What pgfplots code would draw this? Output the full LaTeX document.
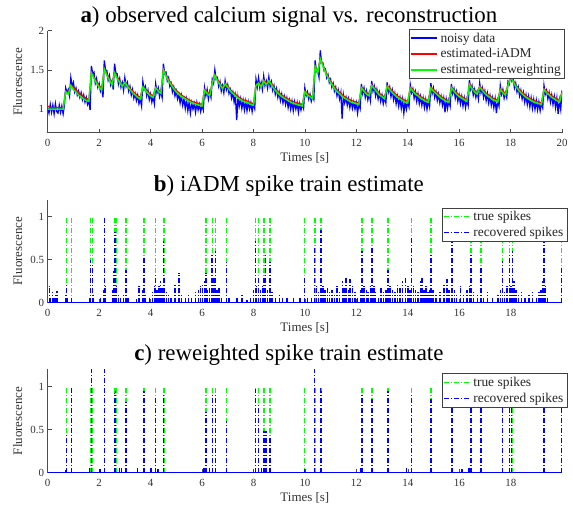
\documentclass[border=0pt]{standalone}
\usepackage{fontspec}
\setmainfont{Liberation Serif}
\usepackage{pgfplots}
\pgfplotsset{compat=1.18}

\pgfplotsset{
  panel/.style={
    scale only axis, width=514.3bp,
    axis x line*=bottom, axis y line*=left,
    tick align=inside, major tick length=4bp,
    axis line style={black!70, line width=0.6bp},
    tick style={black!70, line width=0.6bp},
    ticklabel style={font=\fontsize{11}{13}\selectfont, text=black!80},
    xticklabel style={yshift=-3bp},
    /pgf/number format/assume math mode=true,
    xlabel={Times [s]}, ylabel={Fluorescence},
    xlabel style={at={(axis description cs:0.5,0)}, anchor=center, yshift=-25bp,
      font=\fontsize{13}{15}\selectfont, text=black!80},
    ylabel style={at={(axis description cs:-0.0583,0.5)}, anchor=center, rotate=0,
      font=\fontsize{13}{15}\selectfont, text=black!80},
    title style={at={(axis description cs:0.469,1)}, anchor=south, yshift=-6bp,
      font=\fontsize{23}{26}\selectfont},
    legend image code/.code={\draw[#1] (0bp,0bp) -- (26bp,0bp);},
    legend style={font=\fontsize{13.5}{15}\selectfont, draw=black!75, fill=white,
      inner sep=1bp, cells={anchor=west}, nodes={inner sep=2.5bp}, text=black!85},
    xmin=0,
  },
  spk/.style={line width=1.4bp, dash pattern=on 5bp off 2bp on 1bp off 2bp},
}

\begin{document}
\begin{tikzpicture}
\useasboundingbox (-47.7bp,-377.3bp) rectangle (525.3bp,132.7bp);

% a) calcium trace
\begin{axis}[panel, at={(0,0)}, anchor=south west, height=102bp,
  xmax=20, ymin=0.7, ymax=2, xtick={0,2,...,20}, ytick={1,1.5,2},
  title={\textbf{a}) observed calcium signal vs. reconstruction},
  legend style={at={(1,1)}, anchor=north east, xshift=2.5bp, yshift=1.7bp}]
\addplot[blue, line width=1.3bp] coordinates {
(0.00,1.02) (0.05,0.95) (0.10,1.06) (0.15,0.96) (0.20,1.05) (0.25,0.94) (0.30,1.07) (0.35,0.97) (0.40,0.95) (0.45,1.05)
(0.50,0.96) (0.55,1.04) (0.60,0.94) (0.65,1.05) (0.70,1.27) (0.75,1.21) (0.80,1.25) (0.85,1.17) (0.90,1.40) (0.95,1.29)
(1.00,1.34) (1.05,1.22) (1.10,1.27) (1.15,1.18) (1.20,1.23) (1.25,1.15) (1.30,1.21) (1.35,1.12) (1.40,1.18) (1.45,1.09)
(1.50,1.15) (1.55,1.06) (1.60,1.11) (1.65,0.99) (1.70,1.55) (1.75,1.45) (1.80,1.47) (1.85,1.33) (1.90,1.39) (1.95,1.28)
(2.00,1.33) (2.05,1.23) (2.10,1.28) (2.15,1.15) (2.20,1.62) (2.25,1.50) (2.30,1.49) (2.35,1.37) (2.40,1.43) (2.45,1.31)
(2.50,1.36) (2.55,1.25) (2.60,1.58) (2.65,1.46) (2.70,1.45) (2.75,1.32) (2.80,1.39) (2.85,1.28) (2.90,1.34) (2.95,1.24)
(3.00,1.40) (3.05,1.29) (3.10,1.34) (3.15,1.23) (3.20,1.29) (3.25,1.18) (3.30,1.25) (3.35,1.14) (3.40,1.20) (3.45,1.11)
(3.50,1.18) (3.55,1.07) (3.60,1.13) (3.65,1.04) (3.70,1.35) (3.75,1.25) (3.80,1.29) (3.85,1.17) (3.90,1.24) (3.95,1.12)
(4.00,1.19) (4.05,1.09) (4.10,1.16) (4.15,1.07) (4.20,1.32) (4.25,1.21) (4.30,1.27) (4.35,1.16) (4.40,1.23) (4.45,1.15)
(4.50,1.58) (4.55,1.45) (4.60,1.47) (4.65,1.36) (4.70,1.40) (4.75,1.29) (4.80,1.33) (4.85,1.22) (4.90,1.28) (4.95,1.17)
(5.00,1.23) (5.05,1.13) (5.10,1.19) (5.15,1.08) (5.20,1.17) (5.25,1.05) (5.30,1.13) (5.35,1.01) (5.40,1.12) (5.45,0.98)
(5.50,1.09) (5.55,0.95) (5.60,1.08) (5.65,1.00) (5.70,1.07) (5.75,0.96) (5.80,1.08) (5.85,0.99) (5.90,1.06) (5.95,0.97)
(6.00,1.05) (6.05,0.99) (6.10,1.27) (6.15,1.17) (6.20,1.25) (6.25,1.13) (6.30,1.22) (6.35,1.15) (6.40,1.38) (6.45,1.33)
(6.50,1.50) (6.55,1.38) (6.60,1.40) (6.65,1.29) (6.70,1.35) (6.75,1.23) (6.80,1.30) (6.85,1.21) (6.90,1.36) (6.95,1.25)
(7.00,1.31) (7.05,1.20) (7.10,1.25) (7.15,1.14) (7.20,1.21) (7.25,1.09) (7.30,1.17) (7.35,0.86) (7.40,1.15) (7.45,1.04)
(7.50,1.13) (7.55,1.01) (7.60,1.11) (7.65,0.99) (7.70,1.10) (7.75,0.98) (7.80,1.09) (7.85,1.00) (7.90,1.08) (7.95,0.97)
(8.00,1.07) (8.05,1.01) (8.10,1.38) (8.15,1.28) (8.20,1.40) (8.25,1.27) (8.30,1.34) (8.35,1.25) (8.40,1.42) (8.45,1.30)
(8.50,1.36) (8.55,1.27) (8.60,1.41) (8.65,1.29) (8.70,1.35) (8.75,1.24) (8.80,1.30) (8.85,1.19) (8.90,1.26) (8.95,1.15)
(9.00,1.22) (9.05,1.11) (9.10,1.19) (9.15,1.08) (9.20,1.16) (9.25,1.06) (9.30,1.14) (9.35,1.02) (9.40,1.11) (9.45,1.00)
(9.50,1.10) (9.55,0.98) (9.60,1.09) (9.65,1.00) (9.70,1.08) (9.75,0.96) (9.80,1.07) (9.85,0.99) (9.90,1.06) (9.95,1.01)
(10.00,1.27) (10.05,1.17) (10.10,1.22) (10.15,1.13) (10.20,1.19) (10.25,1.10) (10.30,1.16) (10.35,1.12) (10.40,1.62) (10.45,1.48)
(10.50,1.50) (10.55,1.41) (10.60,1.75) (10.65,1.59) (10.70,1.59) (10.75,1.49) (10.80,1.51) (10.85,1.40) (10.90,1.44) (10.95,1.34)
(11.00,1.38) (11.05,1.28) (11.10,1.33) (11.15,1.23) (11.20,1.28) (11.25,1.17) (11.30,1.24) (11.35,1.13) (11.40,1.21) (11.45,0.88)
(11.50,1.18) (11.55,1.08) (11.60,1.15) (11.65,1.05) (11.70,1.13) (11.75,1.02) (11.80,1.11) (11.85,1.01) (11.90,1.09) (11.95,1.00)
(12.00,1.08) (12.05,0.95) (12.10,1.07) (12.15,1.01) (12.20,1.32) (12.25,1.20) (12.30,1.27) (12.35,1.15) (12.40,1.23) (12.45,1.12)
(12.50,1.20) (12.55,1.11) (12.60,1.36) (12.65,1.23) (12.70,1.29) (12.75,1.17) (12.80,1.25) (12.85,1.13) (12.90,1.21) (12.95,1.10)
(13.00,1.18) (13.05,1.07) (13.10,1.15) (13.15,1.08) (13.20,1.34) (13.25,1.22) (13.30,1.28) (13.35,1.16) (13.40,1.24) (13.45,1.12)
(13.50,1.20) (13.55,1.07) (13.60,1.16) (13.65,1.04) (13.70,1.14) (13.75,1.01) (13.80,1.12) (13.85,0.95) (13.90,1.10) (13.95,1.00)
(14.00,1.09) (14.05,1.03) (14.10,1.31) (14.15,1.21) (14.20,1.26) (14.25,1.14) (14.30,1.22) (14.35,1.10) (14.40,1.19) (14.45,1.07)
(14.50,1.16) (14.55,1.05) (14.60,1.14) (14.65,1.02) (14.70,1.12) (14.75,1.00) (14.80,1.11) (14.85,1.03) (14.90,1.33) (14.95,1.20)
(15.00,1.27) (15.05,1.15) (15.10,1.22) (15.15,1.11) (15.20,1.19) (15.25,1.08) (15.30,1.16) (15.35,1.05) (15.40,1.14) (15.45,0.96)
(15.50,1.12) (15.55,1.01) (15.60,1.11) (15.65,1.04) (15.70,1.32) (15.75,1.20) (15.80,1.26) (15.85,1.14) (15.90,1.22) (15.95,1.10)
(16.00,1.18) (16.05,1.07) (16.10,1.16) (16.15,1.04) (16.20,1.14) (16.25,1.02) (16.30,1.12) (16.35,1.05) (16.40,1.37) (16.45,1.25)
(16.50,1.30) (16.55,1.18) (16.60,1.25) (16.65,1.15) (16.70,1.22) (16.75,1.13) (16.80,1.33) (16.85,1.21) (16.90,1.27) (16.95,1.15)
(17.00,1.23) (17.05,1.11) (17.10,1.20) (17.15,1.08) (17.20,1.17) (17.25,1.05) (17.30,1.14) (17.35,1.02) (17.40,1.13) (17.45,0.95)
(17.50,1.11) (17.55,1.04) (17.60,1.30) (17.65,1.19) (17.70,1.25) (17.75,1.14) (17.80,1.21) (17.85,1.15) (17.90,1.35) (17.95,1.32)
(18.00,1.46) (18.05,1.36) (18.10,1.39) (18.15,1.27) (18.20,1.33) (18.25,1.22) (18.30,1.28) (18.35,1.17) (18.40,1.24) (18.45,1.13)
(18.50,1.21) (18.55,1.09) (18.60,1.18) (18.65,1.06) (18.70,1.16) (18.75,1.03) (18.80,1.14) (18.85,1.01) (18.90,1.12) (18.95,1.00)
(19.00,1.11) (19.05,0.99) (19.10,1.09) (19.15,0.98) (19.20,1.08) (19.25,1.02) (19.30,1.30) (19.35,1.19) (19.40,1.24) (19.45,1.13)
(19.50,1.21) (19.55,1.09) (19.60,1.18) (19.65,1.06) (19.70,1.16) (19.75,1.02) (19.80,1.14) (19.85,0.94) (19.90,1.11) (19.95,1.00)
(20.00,1.24)
};
\addlegendentry{noisy data}
\addplot[red, line width=1.2bp] coordinates {
(0.0,1.04) (0.1,1.02) (0.2,1.02) (0.3,1.02) (0.4,1.02) (0.5,1.02) (0.6,1.02) (0.7,1.23) (0.8,1.21) (0.9,1.31)
(1.0,1.28) (1.1,1.25) (1.2,1.21) (1.3,1.19) (1.4,1.16) (1.5,1.14) (1.6,1.12) (1.7,1.47) (1.8,1.41) (1.9,1.35)
(2.0,1.30) (2.1,1.26) (2.2,1.52) (2.3,1.45) (2.4,1.39) (2.5,1.33) (2.6,1.47) (2.7,1.41) (2.8,1.36) (2.9,1.31)
(3.0,1.35) (3.1,1.31) (3.2,1.27) (3.3,1.23) (3.4,1.20) (3.5,1.17) (3.6,1.15) (3.7,1.29) (3.8,1.26) (3.9,1.22)
(4.0,1.19) (4.1,1.17) (4.2,1.28) (4.3,1.25) (4.4,1.22) (4.5,1.51) (4.6,1.44) (4.7,1.38) (4.8,1.33) (4.9,1.28)
(5.0,1.24) (5.1,1.21) (5.2,1.18) (5.3,1.16) (5.4,1.14) (5.5,1.12) (5.6,1.10) (5.7,1.09) (5.8,1.08) (5.9,1.07)
(6.0,1.06) (6.1,1.25) (6.2,1.22) (6.3,1.19) (6.4,1.34) (6.5,1.44) (6.6,1.38) (6.7,1.33) (6.8,1.28) (6.9,1.33)
(7.0,1.30) (7.1,1.25) (7.2,1.22) (7.3,1.19) (7.4,1.16) (7.5,1.14) (7.6,1.12) (7.7,1.11) (7.8,1.10) (7.9,1.08)
(8.0,1.07) (8.1,1.31) (8.2,1.34) (8.3,1.30) (8.4,1.37) (8.5,1.33) (8.6,1.37) (8.7,1.33) (8.8,1.28) (8.9,1.24)
(9.0,1.21) (9.1,1.18) (9.2,1.16) (9.3,1.14) (9.4,1.12) (9.5,1.10) (9.6,1.09) (9.7,1.08) (9.8,1.07) (9.9,1.06)
(10.0,1.23) (10.1,1.20) (10.2,1.18) (10.3,1.15) (10.4,1.55) (10.5,1.48) (10.6,1.65) (10.7,1.57) (10.8,1.49) (10.9,1.42)
(11.0,1.36) (11.1,1.31) (11.2,1.26) (11.3,1.23) (11.4,1.20) (11.5,1.17) (11.6,1.15) (11.7,1.13) (11.8,1.11) (11.9,1.10)
(12.0,1.09) (12.1,1.08) (12.2,1.28) (12.3,1.25) (12.4,1.21) (12.5,1.19) (12.6,1.31) (12.7,1.28) (12.8,1.24) (12.9,1.20)
(13.0,1.18) (13.1,1.15) (13.2,1.30) (13.3,1.27) (13.4,1.23) (13.5,1.20) (13.6,1.17) (13.7,1.15) (13.8,1.13) (13.9,1.11)
(14.0,1.10) (14.1,1.28) (14.2,1.25) (14.3,1.21) (14.4,1.19) (14.5,1.16) (14.6,1.14) (14.7,1.12) (14.8,1.11) (14.9,1.28)
(15.0,1.25) (15.1,1.22) (15.2,1.19) (15.3,1.16) (15.4,1.14) (15.5,1.12) (15.6,1.11) (15.7,1.28) (15.8,1.25) (15.9,1.21)
(16.0,1.18) (16.1,1.16) (16.2,1.14) (16.3,1.12) (16.4,1.32) (16.5,1.28) (16.6,1.24) (16.7,1.21) (16.8,1.29) (16.9,1.26)
(17.0,1.22) (17.1,1.19) (17.2,1.17) (17.3,1.14) (17.4,1.13) (17.5,1.11) (17.6,1.26) (17.7,1.23) (17.8,1.20) (17.9,1.31)
(18.0,1.42) (18.1,1.37) (18.2,1.31) (18.3,1.27) (18.4,1.23) (18.5,1.20) (18.6,1.17) (18.7,1.15) (18.8,1.13) (18.9,1.11)
(19.0,1.10) (19.1,1.09) (19.2,1.08) (19.3,1.26) (19.4,1.23) (19.5,1.20) (19.6,1.17) (19.7,1.15) (19.8,1.13) (19.9,1.11)
(20.0,1.22)
};
\addlegendentry{estimated-iADM}
\addplot[green, line width=1.5bp] coordinates {
(0.0,1.00) (0.1,1.00) (0.2,1.00) (0.3,1.00) (0.4,1.00) (0.5,1.00) (0.6,1.00) (0.7,1.22) (0.8,1.19) (0.9,1.30)
(1.0,1.25) (1.1,1.22) (1.2,1.18) (1.3,1.16) (1.4,1.13) (1.5,1.11) (1.6,1.10) (1.7,1.46) (1.8,1.39) (1.9,1.33)
(2.0,1.28) (2.1,1.24) (2.2,1.51) (2.3,1.43) (2.4,1.37) (2.5,1.31) (2.6,1.46) (2.7,1.39) (2.8,1.34) (2.9,1.29)
(3.0,1.34) (3.1,1.29) (3.2,1.25) (3.3,1.21) (3.4,1.18) (3.5,1.15) (3.6,1.13) (3.7,1.28) (3.8,1.24) (3.9,1.20)
(4.0,1.17) (4.1,1.15) (4.2,1.27) (4.3,1.23) (4.4,1.20) (4.5,1.50) (4.6,1.42) (4.7,1.36) (4.8,1.31) (4.9,1.26)
(5.0,1.22) (5.1,1.19) (5.2,1.16) (5.3,1.14) (5.4,1.12) (5.5,1.10) (5.6,1.08) (5.7,1.07) (5.8,1.06) (5.9,1.05)
(6.0,1.04) (6.1,1.24) (6.2,1.20) (6.3,1.17) (6.4,1.33) (6.5,1.43) (6.6,1.36) (6.7,1.31) (6.8,1.26) (6.9,1.32)
(7.0,1.28) (7.1,1.23) (7.2,1.20) (7.3,1.17) (7.4,1.14) (7.5,1.12) (7.6,1.10) (7.7,1.09) (7.8,1.08) (7.9,1.06)
(8.0,1.05) (8.1,1.30) (8.2,1.33) (8.3,1.28) (8.4,1.36) (8.5,1.31) (8.6,1.36) (8.7,1.31) (8.8,1.26) (8.9,1.22)
(9.0,1.19) (9.1,1.16) (9.2,1.14) (9.3,1.12) (9.4,1.10) (9.5,1.08) (9.6,1.07) (9.7,1.06) (9.8,1.05) (9.9,1.04)
(10.0,1.22) (10.1,1.18) (10.2,1.16) (10.3,1.13) (10.4,1.54) (10.5,1.46) (10.6,1.64) (10.7,1.55) (10.8,1.47) (10.9,1.40)
(11.0,1.34) (11.1,1.29) (11.2,1.24) (11.3,1.21) (11.4,1.18) (11.5,1.15) (11.6,1.13) (11.7,1.11) (11.8,1.09) (11.9,1.08)
(12.0,1.07) (12.1,1.06) (12.2,1.27) (12.3,1.23) (12.4,1.19) (12.5,1.17) (12.6,1.30) (12.7,1.26) (12.8,1.22) (12.9,1.18)
(13.0,1.16) (13.1,1.13) (13.2,1.29) (13.3,1.25) (13.4,1.21) (13.5,1.18) (13.6,1.15) (13.7,1.13) (13.8,1.11) (13.9,1.09)
(14.0,1.08) (14.1,1.27) (14.2,1.23) (14.3,1.19) (14.4,1.17) (14.5,1.14) (14.6,1.12) (14.7,1.10) (14.8,1.09) (14.9,1.27)
(15.0,1.23) (15.1,1.20) (15.2,1.17) (15.3,1.14) (15.4,1.12) (15.5,1.10) (15.6,1.09) (15.7,1.27) (15.8,1.23) (15.9,1.19)
(16.0,1.16) (16.1,1.14) (16.2,1.12) (16.3,1.10) (16.4,1.31) (16.5,1.26) (16.6,1.22) (16.7,1.19) (16.8,1.28) (16.9,1.24)
(17.0,1.20) (17.1,1.17) (17.2,1.15) (17.3,1.12) (17.4,1.11) (17.5,1.09) (17.6,1.25) (17.7,1.21) (17.8,1.18) (17.9,1.30)
(18.0,1.41) (18.1,1.35) (18.2,1.29) (18.3,1.25) (18.4,1.21) (18.5,1.18) (18.6,1.15) (18.7,1.13) (18.8,1.11) (18.9,1.09)
(19.0,1.08) (19.1,1.07) (19.2,1.06) (19.3,1.25) (19.4,1.21) (19.5,1.18) (19.6,1.15) (19.7,1.13) (19.8,1.11) (19.9,1.09)
(20.0,1.21)
};
\addlegendentry{estimated-reweighting}
\end{axis}

% b) iADM spikes
\begin{axis}[panel, at={(0,-170bp)}, anchor=south west, height=103.2bp,
  xmax=19.99, ymin=0, ymax=1.2, xtick={0,2,...,18}, ytick={0,0.5,1},
  title={\textbf{b}) iADM spike train estimate},
  legend style={at={(1,1)}, anchor=north east, xshift=5bp, yshift=-8bp}]
\addplot[ycomb, green, spk] coordinates {
(0.74,1) (0.92,1) (1.67,1) (1.73,1) (2.20,1) (2.62,1) (2.66,1) (3.05,1) (3.74,1) (4.19,1)
(4.49,1) (4.53,1) (6.16,1) (6.40,1) (6.52,1) (6.94,1) (8.07,1) (8.20,1) (8.41,1) (8.64,1)
(9.99,1) (10.37,1) (10.41,1) (10.62,1) (12.21,1) (12.61,1) (13.23,1) (14.15,1) (14.90,1) (15.72,1)
(16.46,1) (16.84,1) (17.68,1) (17.95,1) (18.06,1) (19.29,1) (19.96,1)
};
\addlegendentry{true spikes}
\addplot[ycomb, blue, spk] coordinates {
(0.08,0.20) (0.12,0.08) (0.18,0.12) (0.24,0.05) (0.30,0.10) (0.36,0.14) (0.70,0.10) (0.74,0.21) (0.78,0.08) (0.92,0.05)
(1.62,0.08) (1.67,0.50) (1.73,0.45) (1.78,0.10) (2.05,0.05) (2.17,0.15) (2.20,1.00) (2.24,0.20) (2.52,0.15) (2.57,0.37)
(2.62,0.82) (2.68,0.20) (2.75,0.10) (2.82,0.05) (2.95,0.10) (3.05,0.38) (3.12,0.05) (3.45,0.04) (3.55,0.20) (3.68,0.15)
(3.74,0.52) (3.80,0.10) (3.95,0.05) (4.08,0.12) (4.14,0.20) (4.19,0.32) (4.25,0.15) (4.32,0.20) (4.38,0.25) (4.45,0.18)
(4.49,0.72) (4.55,0.30) (4.62,0.12) (4.70,0.10) (4.80,0.06) (4.95,0.22) (5.10,0.35) (5.20,0.10) (5.35,0.08) (5.48,0.10)
(5.60,0.05) (5.75,0.12) (5.85,0.15) (5.95,0.20) (6.02,0.22) (6.10,0.25) (6.16,0.35) (6.22,0.15) (6.30,0.18) (6.38,0.55)
(6.46,0.30) (6.52,0.60) (6.58,0.15) (6.66,0.18) (6.75,0.08) (6.94,0.47) (7.05,0.05) (7.35,0.08) (7.55,0.10) (7.75,0.03)
(7.88,0.05) (8.00,0.15) (8.07,0.72) (8.12,0.20) (8.20,0.30) (8.28,0.15) (8.35,0.20) (8.41,0.30) (8.47,0.55) (8.55,0.15)
(8.64,0.47) (8.72,0.12) (8.85,0.08) (9.00,0.10) (9.12,0.06) (9.30,0.08) (9.55,0.05) (9.80,0.06) (9.99,0.30) (10.10,0.08)
(10.25,0.05) (10.37,0.64) (10.45,0.20) (10.52,0.12) (10.62,0.85) (10.70,0.20) (10.78,0.15) (10.88,0.18) (10.95,0.12) (11.05,0.15)
(11.15,0.10) (11.25,0.20) (11.35,0.12) (11.45,0.25) (11.52,0.18) (11.60,0.30) (11.68,0.15) (11.75,0.28) (11.85,0.20) (11.95,0.12)
(12.05,0.08) (12.15,0.15) (12.21,0.60) (12.30,0.20) (12.38,0.15) (12.45,0.12) (12.55,0.20) (12.61,0.65) (12.68,0.20) (12.75,0.12)
(12.85,0.08) (12.95,0.18) (13.05,0.12) (13.15,0.15) (13.23,0.38) (13.30,0.20) (13.40,0.15) (13.50,0.12) (13.60,0.22) (13.70,0.18)
(13.80,0.25) (13.90,0.30) (14.00,0.20) (14.08,0.15) (14.15,0.75) (14.22,0.20) (14.30,0.15) (14.40,0.12) (14.48,0.25) (14.55,0.30)
(14.62,0.15) (14.70,0.20) (14.78,0.12) (14.85,0.15) (14.90,0.57) (14.98,0.15) (15.10,0.10) (15.25,0.12) (15.40,0.22) (15.52,0.28)
(15.60,0.15) (15.72,0.75) (15.80,0.15) (15.90,0.10) (16.05,0.20) (16.15,0.10) (16.30,0.15) (16.40,0.20) (16.46,0.55) (16.55,0.12)
(16.70,0.10) (16.84,0.40) (16.95,0.08) (17.10,0.12) (17.30,0.05) (17.50,0.10) (17.60,0.15) (17.68,0.48) (17.75,0.12) (17.85,0.20)
(17.95,0.55) (18.00,0.20) (18.06,0.60) (18.12,0.25) (18.20,0.15) (18.30,0.10) (18.42,0.12) (18.55,0.08) (18.70,0.10) (18.85,0.12)
(19.00,0.08) (19.10,0.12) (19.18,0.15) (19.24,0.25) (19.29,0.75) (19.34,0.20) (19.42,0.08) (19.96,0.40)
};
\addlegendentry{recovered spikes}
\addplot[blue, line width=1.2bp, forget plot] coordinates {(0,0) (19.99,0)};
\end{axis}

% c) reweighted spikes
\begin{axis}[panel, at={(0,-340bp)}, anchor=south west, height=103.4bp,
  xmax=19.99, ymin=0, ymax=1.2, xtick={0,2,...,18}, ytick={0,0.5,1},
  title={\textbf{c}) reweighted spike train estimate},
  legend style={at={(1,1)}, anchor=north east, xshift=5bp, yshift=-4bp}]
\addplot[ycomb, green, spk] coordinates {
(0.74,1) (0.92,1) (1.67,1) (1.73,1) (2.20,1) (2.62,1) (2.66,1) (3.05,1) (3.74,1) (4.19,1)
(4.49,1) (4.53,1) (6.16,1) (6.40,1) (6.52,1) (6.94,1) (8.07,1) (8.20,1) (8.41,1) (8.64,1)
(9.99,1) (10.37,1) (10.41,1) (10.62,1) (12.21,1) (12.61,1) (13.23,1) (14.15,1) (14.90,1) (15.72,1)
(16.46,1) (16.84,1) (17.68,1) (17.95,1) (18.06,1) (19.29,1) (19.96,1)
};
\addlegendentry{true spikes}
\addplot[ycomb, blue, spk] coordinates {
(0.70,0.03) (0.74,0.45) (0.92,1.00) (1.62,0.05) (1.70,1.30) (2.03,0.04) (2.20,1.30) (2.60,0.93) (2.64,0.95) (2.80,0.07)
(2.88,0.06) (3.05,0.82) (3.50,0.05) (3.74,0.95) (4.02,0.05) (4.19,0.87) (4.28,0.04) (4.50,0.92) (6.05,0.05) (6.10,0.07)
(6.16,0.70) (6.30,0.07) (6.40,0.90) (6.52,0.90) (6.94,0.60) (8.07,0.97) (8.20,0.78) (8.30,0.05) (8.41,0.48) (8.48,0.48)
(8.64,0.42) (9.99,0.04) (10.37,1.30) (10.60,1.00) (10.64,0.95) (12.16,0.05) (12.21,0.90) (12.61,0.85) (13.23,0.95) (13.95,0.06)
(14.15,0.90) (14.90,0.85) (15.72,0.95) (16.10,0.04) (16.38,0.05) (16.46,0.95) (16.84,0.95) (17.68,0.95) (17.95,0.95) (18.03,0.90)
(19.29,0.95) (19.96,0.95)
};
\addlegendentry{recovered spikes}
\addplot[blue, line width=1.2bp, forget plot] coordinates {(0,0) (19.99,0)};
\end{axis}
\end{tikzpicture}
\end{document}
